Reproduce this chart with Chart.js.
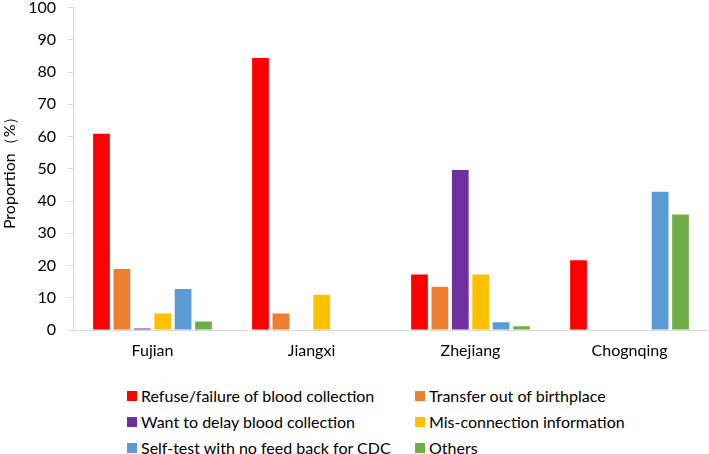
<!DOCTYPE html>
<html>
<head>
<meta charset="utf-8">
<script src="https://cdn.jsdelivr.net/npm/chart.js@4"></script>
<style>
  body { margin: 0; background: #fff; width: 709px; height: 454px; overflow: hidden; position: relative; }
  #wrap { position: absolute; left: 0; top: -14px; width: 709px; height: 384px; }
  #legend { position: absolute; left: 127px; top: 385px; display: grid;
            grid-template-columns: 288px 260px; grid-template-rows: 22px 22px 22px; row-gap: 4px;
            font: 16px/22px Lato, "Liberation Sans", sans-serif; color: #000; }
  .item { display: flex; align-items: center; height: 22px; white-space: nowrap; }
  .box { width: 10px; height: 10px; margin-right: 4px; }
</style>
</head>
<body>
<div id="wrap"><canvas id="chart"></canvas></div>
<div id="legend"></div>
<script>
// --- data -------------------------------------------------------------
var provinces = ["Fujian", "Jiangxi", "Zhejiang", "Chognqing"];
var reasonNames = [
    "Refuse/failure of blood collection",
    "Transfer out of birthplace",
    "Want to delay blood collection",
    "Mis-connection information",
    "Self-test with no feed back for CDC",
    "Others"
];
var refuseVals = [60.9, 84.4, 17.2, 21.6];
var transferVals = [18.9, 5.1, 13.4, 0];
var delayVals = [0.5, 0, 49.6, 0];
var misconnVals = [5.1, 10.9, 17.2, 0];
var selfTestVals = [12.7, 0, 2.4, 42.9];
var otherVals = [2.6, 0, 1.2, 35.8];
var yTicks = [0, 10, 20, 30, 40, 50, 60, 70, 80, 90, 100];

var colors = ["#FF0000", "#ED7D31", "#7030A0", "#FFC000", "#5B9BD5", "#70AD47"];
var series = [refuseVals, transferVals, delayVals, misconnVals, selfTestVals, otherVals];
var FONT = "Lato, 'Liberation Sans', sans-serif";

// --- chart ------------------------------------------------------------
var datasets = series.map(function (vals, i) {
    return {
        label: reasonNames[i],
        data: vals,
        backgroundColor: colors[i],
        borderWidth: 0,
        categoryPercentage: 0.77,
        barPercentage: 0.82
    };
});

var ctx = document.getElementById("chart").getContext("2d");
var myChart = new Chart(ctx, {
    type: "bar",
    data: {labels: provinces, datasets: datasets},
    options: {
        responsive: true,
        maintainAspectRatio: false,
        animation: false,
        layout: {padding: 0},
        plugins: {legend: {display: false}, tooltip: {enabled: false}},
        scales: {
            x: {
                grid: {display: false},
                border: {color: "#d9d9d9", width: 1},
                ticks: {color: "#000", font: {family: FONT, size: 16}, padding: 3},
                afterFit: function (scale) { scale.height = 40; }
            },
            y: {
                min: 0,
                max: 100,
                afterBuildTicks: function (scale) {
                    scale.ticks = yTicks.map(function (v) { return {value: v}; });
                },
                grid: {drawOnChartArea: false, color: "#d9d9d9", tickLength: 5},
                border: {color: "#d9d9d9", width: 1},
                ticks: {color: "#000", font: {family: FONT, size: 16}, padding: 12},
                title: {
                    display: true,
                    text: "Proportion（%）",
                    color: "#000",
                    font: {family: FONT, size: 16},
                    padding: 0
                },
                afterFit: function (scale) { scale.width = 73; }
            }
        }
    }
});

// --- legend -----------------------------------------------------------
var legendEl = document.getElementById("legend");
datasets.forEach(function (ds) {
    var item = document.createElement("div");
    item.className = "item";
    var box = document.createElement("span");
    box.className = "box";
    box.style.background = ds.backgroundColor;
    item.appendChild(box);
    item.appendChild(document.createTextNode(ds.label));
    legendEl.appendChild(item);
});
</script>
</body>
</html>
